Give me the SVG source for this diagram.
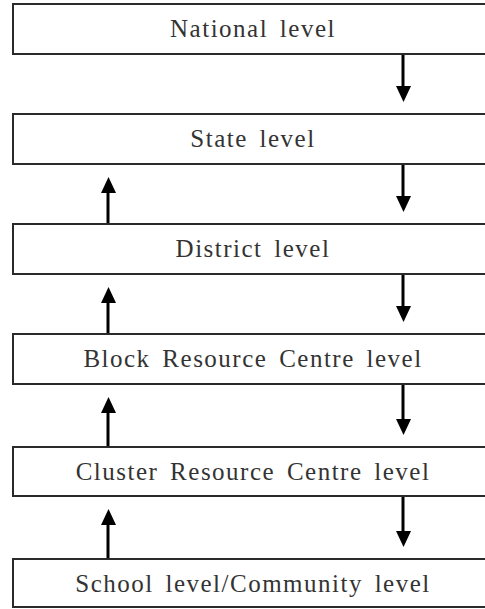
<svg xmlns="http://www.w3.org/2000/svg" width="485" height="609" viewBox="0 0 485 609">
<style>
.box{fill:#fff;stroke:#2a2a2a;stroke-width:2}
.lbl{font-family:'Liberation Serif','DejaVu Serif',serif;font-size:25px;fill:#333;text-anchor:middle;letter-spacing:1.5px;word-spacing:4px}
.arr{stroke:#000;stroke-width:3;fill:none}
.head{fill:#000}
</style>
<rect width="485" height="609" fill="#fff"/>
<g id="national"><rect class="box" x="13" y="4" width="480" height="50"/><text class="lbl" x="253" y="37">National level</text></g>
<g id="state"><rect class="box" x="13" y="114" width="480" height="50"/><text class="lbl" x="253" y="147">State level</text></g>
<g id="district"><rect class="box" x="13" y="224" width="480" height="50"/><text class="lbl" x="253" y="257">District level</text></g>
<g id="block"><rect class="box" x="13" y="334" width="480" height="50"/><text class="lbl" x="253" y="367">Block Resource Centre level</text></g>
<g id="cluster"><rect class="box" x="13" y="447" width="480" height="49"/><text class="lbl" x="253" y="480">Cluster Resource Centre level</text></g>
<g id="school"><rect class="box" x="13" y="559" width="480" height="48"/><text class="lbl" x="253" y="592">School level/Community level</text></g>
<g id="connectors">
<line class="arr" x1="403" y1="55" x2="403" y2="88"/><polygon class="head" points="396,86 411,86 403.5,102"/>
<line class="arr" x1="403" y1="165" x2="403" y2="198"/><polygon class="head" points="396,196 411,196 403.5,212"/>
<line class="arr" x1="403" y1="275" x2="403" y2="308"/><polygon class="head" points="396,306 411,306 403.5,322"/>
<line class="arr" x1="403" y1="385" x2="403" y2="421"/><polygon class="head" points="396,419 411,419 403.5,435"/>
<line class="arr" x1="403" y1="497" x2="403" y2="533"/><polygon class="head" points="396,531 411,531 403.5,547"/>
<line class="arr" x1="108" y1="223" x2="108" y2="191"/><polygon class="head" points="101,193 116,193 108.5,177"/>
<line class="arr" x1="108" y1="333" x2="108" y2="301"/><polygon class="head" points="101,303 116,303 108.5,287"/>
<line class="arr" x1="108" y1="446" x2="108" y2="411"/><polygon class="head" points="101,413 116,413 108.5,397"/>
<line class="arr" x1="108" y1="558" x2="108" y2="523"/><polygon class="head" points="101,525 116,525 108.5,509"/>
</g>
</svg>
